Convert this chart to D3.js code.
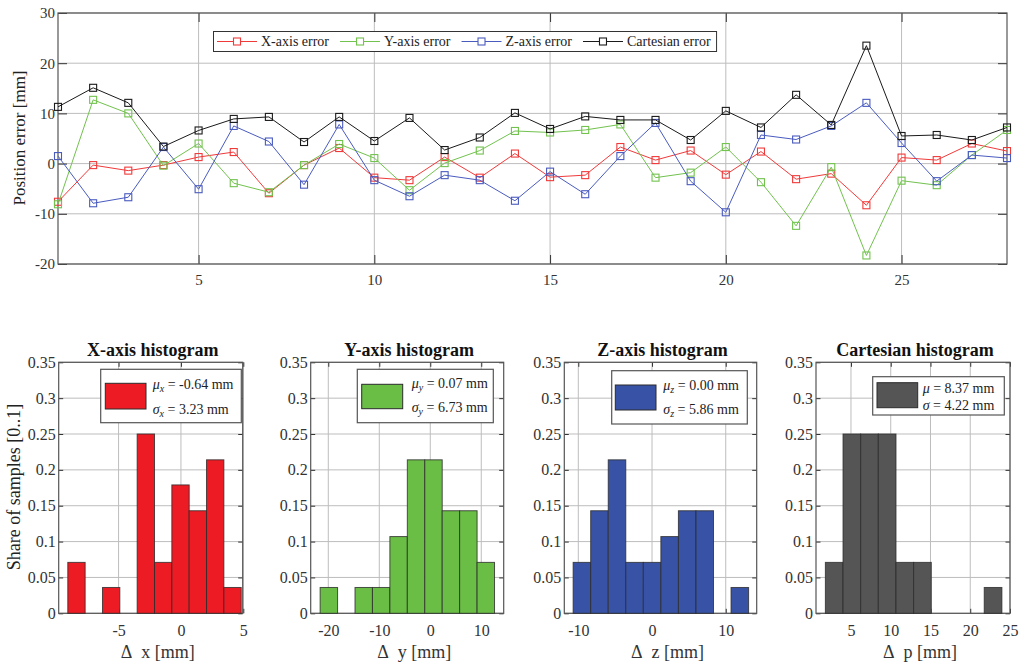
<!DOCTYPE html>
<html lang="en">
<head>
  <meta charset="utf-8">
  <title>Position error</title>
  <script src="https://d3js.org/d3.v7.min.js"></script>
  <style>
body { margin: 0; background: #fff; }
svg text { font-family: "Liberation Serif", "Times New Roman", serif; fill: #333; }
.domain { display: none; }
.tick line { stroke: #333; }
  </style>
</head>
<body>
<div id="chart"></div>

<script>
// ---- data ----
var samples = [1,2,3,4,5,6,7,8,9,10,11,12,13,14,15,16,17,18,19,20,21,22,23,24,25,26,27,28];
var xErr    = [-7.6,-0.3,-1.4,-0.3,1.3,2.3,-5.9,-0.3,3.1,-2.8,-3.3,1.3,-2.8,2.0,-2.7,-2.3,3.3,0.7,2.6,-2.2,2.4,-3.1,-2.0,-8.3,1.2,0.7,4.0,2.5];
var yErr    = [-8.1,12.7,10.0,-0.4,4.0,-3.9,-5.7,-0.3,3.9,1.1,-5.3,0.1,2.6,6.5,6.2,6.7,7.8,-2.8,-1.8,3.3,-3.7,-12.4,-0.7,-18.3,-3.4,-4.3,1.7,6.7];
var zErr    = [1.5,-7.9,-6.7,3.3,-5.1,7.5,4.4,-4.2,7.8,-3.3,-6.5,-2.3,-3.3,-7.4,-1.6,-6.1,1.5,8.1,-3.5,-9.7,5.7,4.8,7.5,12.1,4.1,-3.5,1.7,1.1];
var cartErr = [11.3,15.1,12.1,3.4,6.6,8.9,9.3,4.3,9.3,4.5,9.1,2.7,5.2,10.1,6.9,9.4,8.7,8.7,4.7,10.5,7.2,13.7,7.7,23.5,5.5,5.7,4.7,7.2];

var seriesNames = ["X-axis error", "Y-axis error", "Z-axis error", "Cartesian error"];
var sampleTicks = [5,10,15,20,25];
var errTicks    = [-20,-10,0,10,20,30];

// histogram bins (edges) and share of samples per bin
var xBinEdges = [-9.07,-7.68,-6.29,-4.90,-3.51,-2.12,-0.73,0.66,2.05,3.44,4.83];
var xShare    = [0.071,0,0.036,0,0.25,0.071,0.179,0.143,0.214,0.036];
var yBinEdges = [-21.6,-18.18,-14.76,-11.34,-7.92,-4.5,-1.08,2.34,5.76,9.18,12.6];
var yShare    = [0.036,0,0.036,0.036,0.107,0.214,0.214,0.143,0.143,0.071];
var zBinEdges = [-10.7,-8.32,-5.94,-3.56,-1.18,1.2,3.58,5.96,8.34,10.72,13.1];
var zShare    = [0.071,0.143,0.214,0.071,0.071,0.107,0.143,0.143,0,0.036];
var pBinEdges = [1.78,4.0,6.22,8.44,10.66,12.88,15.1,17.32,19.54,21.76,23.98];
var pShare    = [0.071,0.25,0.25,0.25,0.071,0.071,0,0,0,0.036];

var histTitles = ["X-axis histogram", "Y-axis histogram", "Z-axis histogram", "Cartesian histogram"];
var histVars   = ["x", "y", "z", "p"];
var meanText   = ["-0.64", "0.07", "0.00", "8.37"];
var sdText     = ["3.23", "6.73", "5.86", "4.22"];
var xHistTicks = [-5,0,5];
var yHistTicks = [-20,-10,0,10];
var zHistTicks = [-10,0,10];
var pHistTicks = [5,10,15,20,25];
var shareTicks = [0,0.05,0.1,0.15,0.2,0.25,0.3,0.35];

// ---- styles ----
var lineColors = ["#f03a3a", "#72c24e", "#4a5bbf", "#1a1a1a"];
var barColors  = ["#ed1c24", "#6abd45", "#3853a5", "#555555"];
var gridColor  = "#bdbdbd";

var svg = d3.select("#chart").append("svg")
    .attr("width", 1026)
    .attr("height", 663);

// draws grid, box and inward ticks (MATLAB-like axes)
function drawAxes(g, xs, ys, xt, yt, tick, fontSize, xPad) {
  var x0 = xs.range()[0], x1 = xs.range()[1];
  var y0 = ys.range()[0], y1 = ys.range()[1];

  g.append("g").selectAll("line.gx").data(xt).enter().append("line")
      .attr("x1", function(d){ return xs(d); }).attr("x2", function(d){ return xs(d); })
      .attr("y1", y0).attr("y2", y1)
      .attr("stroke", gridColor).attr("stroke-width", 1);
  g.append("g").selectAll("line.gy").data(yt).enter().append("line")
      .attr("y1", function(d){ return ys(d); }).attr("y2", function(d){ return ys(d); })
      .attr("x1", x0).attr("x2", x1)
      .attr("stroke", gridColor).attr("stroke-width", 1);

  g.append("g")
      .attr("transform", "translate(0," + y0 + ")")
      .call(d3.axisBottom(xs).tickValues(xt).tickSizeInner(-tick).tickSizeOuter(0).tickPadding(xPad).tickFormat(function(d){ return String(d); }))
      .selectAll("text").style("font-size", fontSize + "px");
  g.append("g")
      .attr("transform", "translate(0," + y1 + ")")
      .call(d3.axisTop(xs).tickValues(xt).tickSizeInner(-tick).tickSizeOuter(0).tickFormat(""));
  g.append("g")
      .attr("transform", "translate(" + x0 + ",0)")
      .call(d3.axisLeft(ys).tickValues(yt).tickSizeInner(-tick).tickSizeOuter(0).tickPadding(3).tickFormat(function(d){ return String(d); }))
      .selectAll("text").style("font-size", fontSize + "px");
  g.append("g")
      .attr("transform", "translate(" + x1 + ",0)")
      .call(d3.axisRight(ys).tickValues(yt).tickSizeInner(-tick).tickSizeOuter(0).tickFormat(""));

  g.append("rect")
      .attr("x", x0).attr("y", y1)
      .attr("width", x1 - x0).attr("height", y0 - y1)
      .attr("fill", "none").attr("stroke", "#555").attr("stroke-width", 1.2);
}

// ---- top line chart ----
var xRun = d3.scaleLinear().domain([1, 28]).range([58, 1007]);
var yPos = d3.scaleLinear().domain([-20, 30]).range([264, 13]);
var topG = svg.append("g");
drawAxes(topG, xRun, yPos, sampleTicks, errTicks, 9, 15, 10);

topG.append("text")
    .attr("transform", "translate(19,138) rotate(-90)")
    .attr("text-anchor", "middle")
    .attr("dy", "0.35em")
    .style("font-size", "17px")
    .style("fill", "#222")
    .text("Position error [mm]");

var allSeries = [xErr, yErr, zErr, cartErr];
var line = d3.line()
    .x(function(d, i){ return xRun(samples[i]); })
    .y(function(d){ return yPos(d); });

allSeries.forEach(function(vals, k) {
  topG.append("path")
      .datum(vals)
      .attr("d", line)
      .attr("fill", "none")
      .attr("stroke", lineColors[k])
      .attr("stroke-width", 1);
  topG.append("g").selectAll("rect").data(vals).enter().append("rect")
      .attr("x", function(d, i){ return xRun(samples[i]) - 3.5; })
      .attr("y", function(d){ return yPos(d) - 3.5; })
      .attr("width", 7).attr("height", 7)
      .attr("fill", "none")
      .attr("stroke", lineColors[k])
      .attr("stroke-width", 1.1);
});

// legend
var leg = topG.append("g");
var legBox = leg.append("rect")
    .attr("x", 213.5).attr("y", 31.5).attr("height", 20)
    .attr("fill", "#fff").attr("stroke", "#333").attr("stroke-width", 1);
var lx = 217;
seriesNames.forEach(function(name, k) {
  leg.append("line")
      .attr("x1", lx).attr("x2", lx + 40).attr("y1", 41.5).attr("y2", 41.5)
      .attr("stroke", lineColors[k]).attr("stroke-width", 1);
  leg.append("rect")
      .attr("x", lx + 16.5).attr("y", 38).attr("width", 7).attr("height", 7)
      .attr("fill", "#fff").attr("stroke", lineColors[k]).attr("stroke-width", 1.1);
  var t = leg.append("text")
      .attr("x", lx + 44).attr("y", 41.5).attr("dy", "0.35em")
      .style("font-size", "14px").style("fill", "#222")
      .text(name);
  lx = lx + 44 + t.node().getComputedTextLength() + 11;
});
legBox.attr("width", lx - 11 + 6 - 213.5);

// ---- histograms ----
var panels = [
  {edges: xBinEdges, share: xShare, dom: [-9.8, 4.95], ticks: xHistTicks, px: [58.7, 242.7],
   box: [100.7, 369.3, 140.6, 53.4], patch: [105.3, 383.3, 40.7, 25.7], tx: 152.7, ty: [384, 409]},
  {edges: yBinEdges, share: yShare, dom: [-23.45, 14.4], ticks: yHistTicks, px: [310.7, 503.7],
   box: [357.3, 369.3, 136, 53.4], patch: [361.7, 384.3, 41, 24.4], tx: 411.7, ty: [383.3, 407.3]},
  {edges: zBinEdges, share: zShare, dom: [-11.9, 14.2], ticks: zHistTicks, px: [564.3, 756.7],
   box: [611.7, 370.7, 135.6, 53.3], patch: [615.3, 385, 40.7, 25], tx: 663.3, ty: [385, 409.3]},
  {edges: pBinEdges, share: pShare, dom: [0.6, 25], ticks: pHistTicks, px: [816, 1010],
   box: [872.7, 376.7, 131.6, 38.3], patch: [877, 382.7, 40.7, 25], tx: 922.7, ty: [388.3, 405.3]}
];
var yShareScale = d3.scaleLinear().domain([0, 0.35]).range([613.3, 362.3]);

panels.forEach(function(p, k) {
  var g = svg.append("g");
  var xs = d3.scaleLinear().domain(p.dom).range(p.px);
  drawAxes(g, xs, yShareScale, p.ticks, shareTicks, 4.5, 16, 11);

  var bins = p.share.map(function(s, i){ return {x0: p.edges[i], x1: p.edges[i + 1], s: s}; })
      .filter(function(b){ return b.s > 0; });
  g.append("g").selectAll("rect").data(bins).enter().append("rect")
      .attr("x", function(b){ return xs(b.x0); })
      .attr("width", function(b){ return xs(b.x1) - xs(b.x0); })
      .attr("y", function(b){ return yShareScale(b.s); })
      .attr("height", function(b){ return yShareScale(0) - yShareScale(b.s); })
      .attr("fill", barColors[k])
      .attr("stroke", "#2b2b2b").attr("stroke-opacity", 0.8).attr("stroke-width", 1);

  // title
  g.append("text")
      .attr("x", (p.px[0] + p.px[1]) / 2 + 2).attr("y", 349.5).attr("dy", "0.35em")
      .attr("text-anchor", "middle")
      .style("font-size", "18px").style("font-weight", "bold").style("fill", "#111")
      .text(histTitles[k]);

  // x label
  var xl = g.append("text")
      .attr("x", (p.px[0] + p.px[1]) / 2 + 7).attr("y", 651.5).attr("dy", "0.35em")
      .attr("text-anchor", "middle")
      .style("font-size", "18px").style("fill", "#333");
  xl.append("tspan").text("\u0394");
  xl.append("tspan").attr("dx", 9).text(histVars[k] + " [mm]");

  // legend
  g.append("rect")
      .attr("x", p.box[0]).attr("y", p.box[1]).attr("width", p.box[2]).attr("height", p.box[3])
      .attr("fill", "#fff").attr("stroke", "#555").attr("stroke-width", 1.2);
  g.append("rect")
      .attr("x", p.patch[0]).attr("y", p.patch[1]).attr("width", p.patch[2]).attr("height", p.patch[3])
      .attr("fill", barColors[k]).attr("stroke", "#2b2b2b").attr("stroke-width", 1);
  var sub = k < 3 ? histVars[k] : "";
  [["\u03bc", meanText[k]], ["\u03c3", sdText[k]]].forEach(function(row, r) {
    var t = g.append("text")
        .attr("x", p.tx).attr("y", p.ty[r]).attr("dy", "0.35em")
        .style("font-size", "14px").style("fill", "#222");
    t.append("tspan").style("font-style", "italic").text(row[0]);
    if (sub) {
      t.append("tspan").attr("dy", "3").style("font-size", "10px").style("font-style", "italic").text(sub);
      t.append("tspan").attr("dy", "-3").text(" = " + row[1] + " mm");
    } else {
      t.append("tspan").text(" = " + row[1] + " mm");
    }
  });
});

svg.append("text")
    .attr("transform", "translate(14,487) rotate(-90)")
    .attr("text-anchor", "middle")
    .attr("dy", "0.35em")
    .style("font-size", "18px")
    .style("fill", "#222")
    .text("Share of samples [0..1]");
</script>
</body>
</html>
